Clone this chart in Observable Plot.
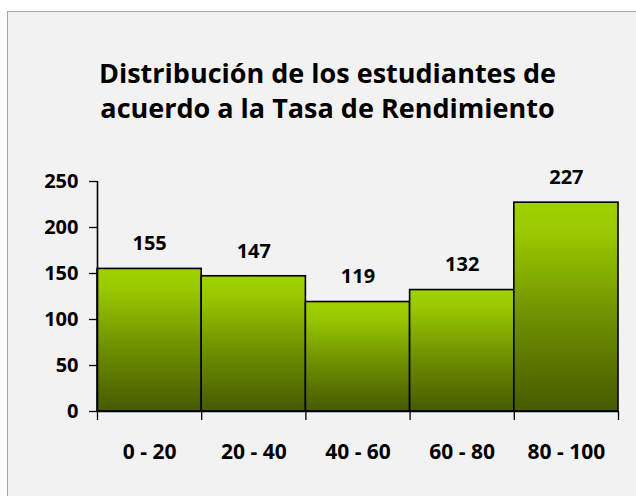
<!DOCTYPE html>
<html>
<head>
<meta charset="utf-8">
<script src="https://cdn.jsdelivr.net/npm/d3@7"></script>
<script src="https://cdn.jsdelivr.net/npm/@observablehq/plot@0.6"></script>
<style>
  html, body { margin: 0; padding: 0; background: #ffffff; width: 636px; height: 496px; overflow: hidden; }
  #frame { position: absolute; left: 7px; top: 11px; width: 660px; height: 520px; background: #f2f2f2; border: 1px solid #a6a6a6; }
  #title { position: absolute; left: 0; top: 55px; width: 655px; text-align: center; font-family: "Open Sans", sans-serif; font-weight: bold; font-size: 27px; line-height: 35px; color: #000; }
  #chart { position: absolute; left: 0; top: 160px; }
</style>
</head>
<body>
<div id="frame"></div>
<div id="title">Distribución de los estudiantes de<br>acuerdo a la Tasa de Rendimiento</div>
<div id="chart"></div>
<script>
const categories = ["0 - 20", "20 - 40", "40 - 60", "60 - 80", "80 - 100"];
const binStart = [0, 20, 40, 60, 80];
const binEnd = [20, 40, 60, 80, 100];
const values = [155, 147, 119, 132, 227];
const yTicks = [0, 50, 100, 150, 200, 250];
const xBoundaries = [0, 20, 40, 60, 80, 100];

const data = categories.map((c, i) => ({cat: c, x1: binStart[i], x2: binEnd[i], v: values[i]}));

const font = "'Open Sans', sans-serif";

const gradient = () => {
  const defs = d3.create("svg:defs");
  const g = defs.append("linearGradient").attr("id", "barGrad")
    .attr("x1", 0).attr("y1", 0).attr("x2", 0).attr("y2", 1);
  g.append("stop").attr("offset", "0%").attr("stop-color", "#9fd100");
  g.append("stop").attr("offset", "15%").attr("stop-color", "#99c800");
  g.append("stop").attr("offset", "55%").attr("stop-color", "#6e9000");
  g.append("stop").attr("offset", "100%").attr("stop-color", "#465a00");
  return defs.node();
};

const plot = Plot.plot({
  width: 636,
  height: 320,
  marginLeft: 97,
  marginRight: 18,
  marginTop: 21,
  marginBottom: 69,
  style: {background: "transparent", fontFamily: font, color: "#000"},
  x: {domain: [0, 100]},
  y: {domain: [0, 250]},
  marks: [
    gradient,
    Plot.rectY(data, {x1: "x1", x2: "x2", y: "v", fill: "url(#barGrad)", stroke: "#000", strokeWidth: 1.6}),
    Plot.ruleX([0], {stroke: "#000", strokeWidth: 1.6}),
    Plot.ruleY([0], {stroke: "#000", strokeWidth: 1.6}),
    Plot.axisY({ticks: yTicks, tickSize: 8, tickPadding: 11, tickFormat: d => d, fontSize: 20, fontWeight: "bold", stroke: "#000", strokeWidth: 1.3, label: null}),
    Plot.axisX({ticks: xBoundaries, tickSize: 9, tickFormat: () => "", stroke: "#000", strokeWidth: 1.3, label: null}),
    Plot.text(data, {x: d => (d.x1 + d.x2) / 2, y: 0, text: "cat", dy: 41, fontSize: 21, fontWeight: "bold", fill: "#000"}),
    Plot.text(data, {x: d => (d.x1 + d.x2) / 2, y: "v", text: d => String(d.v), dy: -25, fontSize: 20, fontWeight: "bold", fill: "#000"})
  ]
});
plot.style.fontFamily = font;
plot.querySelectorAll("text").forEach(t => t.setAttribute("font-weight", "bold"));
plot.querySelectorAll("g[aria-label='y-axis tick label'], g[aria-label='x-axis tick label']").forEach(g => g.setAttribute("font-weight", "bold"));
document.getElementById("chart").appendChild(plot);
</script>
</body>
</html>
